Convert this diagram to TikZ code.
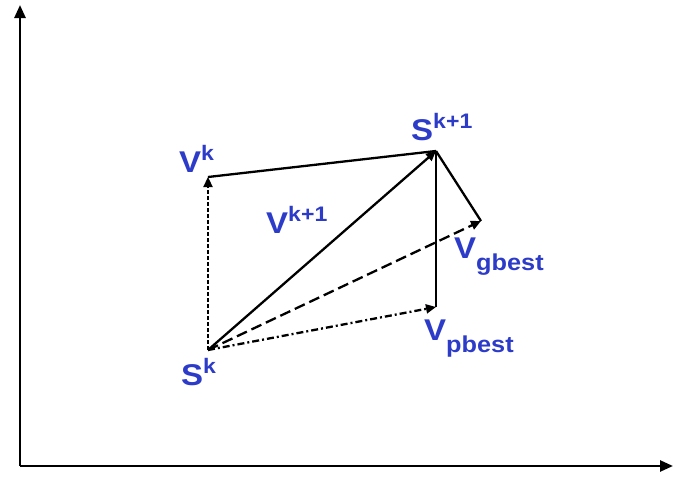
\documentclass[tikz,border=0pt]{standalone}
\usepackage{fontspec}
\setmainfont{Liberation Sans}[FakeStretch=1.1]
\usetikzlibrary{arrows.meta}
\definecolor{lblblue}{RGB}{45,60,200}
\newcommand\myup[1]{\raisebox{12pt}{\fontsize{21}{21}\selectfont #1}}
\newcommand\mydown[1]{\raisebox{-12pt}{\fontsize{23}{23}\selectfont #1}}
\begin{document}
\begin{tikzpicture}[x=1pt,y=-1pt,
  vec/.style={line width=2.3pt,-{Triangle[length=10pt,width=9pt]}},
  seg/.style={line width=2.3pt},
  lbl/.style={text=lblblue,font=\fontsize{30}{32}\selectfont\bfseries,inner sep=0pt,anchor=base west},
  axis/.style={line width=2.6pt,-{Triangle[length=13pt,width=11pt]}}]
\useasboundingbox (0,0) rectangle (673,479);
\coordinate (o) at (20,466);
\coordinate (ytop) at (20,5);
\coordinate (xend) at (673,466);
\draw[axis] (o) -- (ytop);
\draw[axis] (o) -- (xend);
\coordinate (sk) at (208,350);
\coordinate (vk) at (208,177);
\coordinate (sk1) at (436,151);
\coordinate (vg) at (481,221);
\coordinate (vp) at (436,307);
\draw[vec,dash pattern=on 4pt off 2pt] (sk) -- (vk);
\draw[seg] (vk) -- (sk1);
\draw[vec] (sk) -- (sk1);
\draw[vec,dash pattern=on 11pt off 5pt] (sk) -- (vg);
\draw[vec,dash pattern=on 7pt off 3pt on 2pt off 3pt] (sk) -- (vp);
\draw[seg] (sk1) -- (vp);
\draw[seg] (sk1) -- (vg);
\node[lbl] (lsk) at (181,385) {S\myup{k}};
\node[lbl] (lvk) at (179,172) {V\myup{k}};
\node[lbl] (lsk1) at (411,140) {S\myup{k+1}};
\node[lbl] (lvk1) at (266,233) {V\myup{k+1}};
\node[lbl] (lvg) at (454,258) {V\mydown{gbest}};
\node[lbl] (lvp) at (424,340) {V\mydown{pbest}};
\end{tikzpicture}
\end{document}
